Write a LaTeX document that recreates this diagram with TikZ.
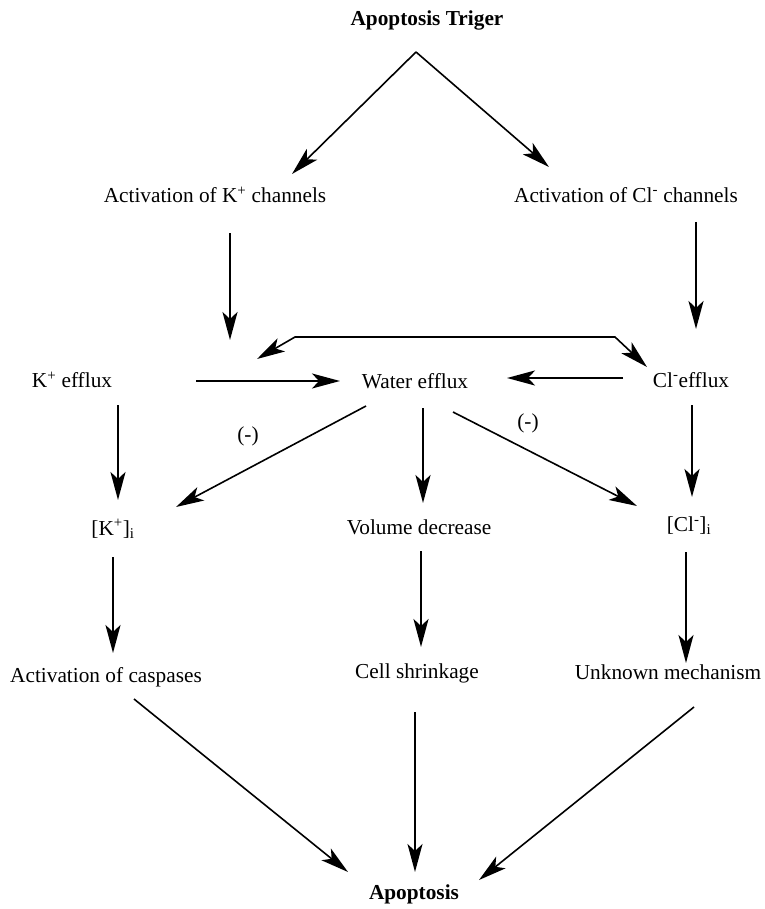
\documentclass[tikz,border=0pt]{standalone}
\usepackage{fontspec}
\setmainfont{Liberation Serif}
\usetikzlibrary{arrows.meta}
\begin{document}
\begin{tikzpicture}[x=1pt,y=-1pt,
  lbl/.style={inner sep=0pt,font=\fontsize{21.3}{25}\selectfont},
  blbl/.style={inner sep=0pt,font=\fontsize{21.3}{25}\selectfont\bfseries},
  tip/.style={-{Stealth[length=28pt,width=15pt,inset=7pt]}},
  arr/.style={line width=1.6pt,tip},
  tarr/.style={line width=2.6pt,tip},
  twoarr/.style={line width=1.6pt,{Stealth[length=28pt,width=15pt,inset=7pt]}-{Stealth[length=28pt,width=15pt,inset=7pt]}}]
\useasboundingbox (0,0) rectangle (764,909);
% nodes
\node[blbl] (trig) at (427,20) {Apoptosis Triger};
\node[lbl] (actK) at (215,195) {Activation of K\textsuperscript{+} channels};
\node[lbl] (actCl) at (626,195) {Activation of Cl\textsuperscript{-} channels};
\node[lbl] (Keff) at (72,380) {K\textsuperscript{+} efflux};
\node[lbl] (Weff) at (415,381) {Water efflux};
\node[lbl] (Cleff) at (691,380) {Cl\textsuperscript{-}efflux};
\node[lbl] (Ki) at (113,529) {[K\textsuperscript{+}]\textsubscript{i}};
\node[lbl] (vol) at (419,527) {Volume decrease};
\node[lbl] (Cli) at (689,526) {[Cl\textsuperscript{-}]\textsubscript{i}};
\node[lbl] (casp) at (106,677) {Activation of caspases};
\node[lbl] (shr) at (417,673) {Cell shrinkage};
\node[lbl] (unk) at (668,672) {Unknown mechanism};
\node[blbl] (apo) at (414,894) {Apoptosis};
\node[lbl] (negL) at (248,436) {(-)};
\node[lbl] (negR) at (528,423) {(-)};
% coordinates
\coordinate (apex) at (416,52);
\coordinate (tL) at (292,174);
\coordinate (tR) at (549,167);
\coordinate (aKs) at (230,233); \coordinate (aKe) at (230,340);
\coordinate (aCs) at (696,222); \coordinate (aCe) at (696,329);
\coordinate (bTL) at (257,359); \coordinate (bL) at (295,337);
\coordinate (bR) at (615,337); \coordinate (bTR) at (647,367);
\coordinate (hKs) at (196,381); \coordinate (hKe) at (340,381);
\coordinate (hCs) at (623,378); \coordinate (hCe) at (507,378);
\coordinate (kds) at (118,405); \coordinate (kde) at (118,500);
\coordinate (wds) at (423,408); \coordinate (wde) at (423,503);
\coordinate (cds) at (692,405); \coordinate (cde) at (692,497);
\coordinate (wls) at (366,406); \coordinate (wle) at (176,507);
\coordinate (wrs) at (453,412); \coordinate (wre) at (637,506);
\coordinate (k2s) at (113,557); \coordinate (k2e) at (113,653);
\coordinate (v2s) at (421,551); \coordinate (v2e) at (421,647);
\coordinate (c2s) at (686,552); \coordinate (c2e) at (686,663);
\coordinate (f1s) at (134,699); \coordinate (f1e) at (348,872);
\coordinate (f2s) at (415,712); \coordinate (f2e) at (415,872);
\coordinate (f3s) at (694,707); \coordinate (f3e) at (479,880);
% connectors
\draw[arr] (apex) -- (tL);
\draw[arr] (apex) -- (tR);
\draw[tarr] (aKs) -- (aKe);
\draw[tarr] (aCs) -- (aCe);
\draw[twoarr] (bTL) -- (bL) -- (bR) -- (bTR);
\draw[arr] (hKs) -- (hKe);
\draw[tarr] (hCs) -- (hCe);
\draw[tarr] (kds) -- (kde);
\draw[tarr] (wds) -- (wde);
\draw[tarr] (cds) -- (cde);
\draw[arr] (wls) -- (wle);
\draw[arr] (wrs) -- (wre);
\draw[tarr] (k2s) -- (k2e);
\draw[tarr] (v2s) -- (v2e);
\draw[arr] (c2s) -- (c2e);
\draw[arr] (f1s) -- (f1e);
\draw[arr] (f2s) -- (f2e);
\draw[arr] (f3s) -- (f3e);
\end{tikzpicture}
\end{document}
